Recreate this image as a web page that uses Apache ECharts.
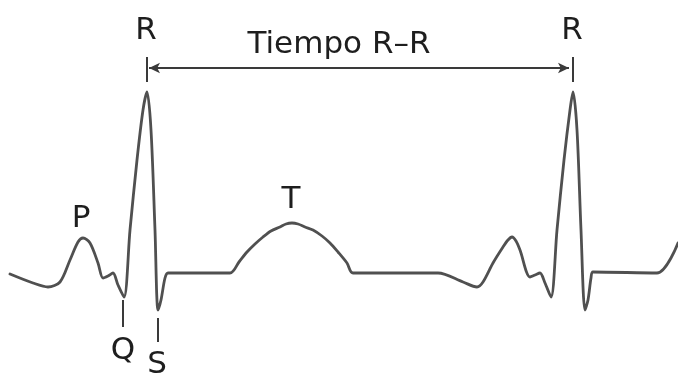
<!DOCTYPE html>
<html><head><meta charset="utf-8">
<script src="https://cdn.jsdelivr.net/npm/echarts@6/dist/echarts.min.js"></script>
<style>html,body{margin:0;padding:0;background:#fff}#c{width:678px;height:377px}</style>
</head><body><div id="c"></div>
<script>
// ECG trace: time (ms) and voltage (mV)
const timeMs = [20, 66, 96, 120, 140, 156, 166, 180, 196, 206, 216, 226, 236, 248,
  260, 274, 286, 294, 302, 310, 316, 322, 330, 336,
  460, 478, 494, 510, 526, 542, 560, 572, 584, 596, 610, 626, 644, 660, 676, 694, 706,
  876, 926, 954, 966, 986, 1006, 1016, 1024, 1032, 1040, 1060, 1070, 1080, 1090, 1102,
  1114, 1128, 1140, 1146, 1154, 1162, 1170, 1176, 1182, 1186, 1314, 1356];
const voltageMv = [-0.01, -0.10, -0.14, -0.09, 0.13, 0.31, 0.35, 0.30, 0.10, -0.05, -0.03, 0.00, -0.12, -0.24,
  0.43, 1.13, 1.63, 1.81, 1.43, 0.43, -0.37, -0.27, -0.05, 0.00,
  0.00, 0.11, 0.21, 0.29, 0.36, 0.42, 0.46, 0.49, 0.50, 0.49, 0.46, 0.43, 0.37, 0.30, 0.21, 0.10, 0.00,
  0.00, -0.09, -0.14, -0.09, 0.10, 0.26, 0.33, 0.36, 0.32, 0.23, -0.04, -0.02, 0.00, -0.10, -0.24,
  0.43, 1.13, 1.63, 1.81, 1.43, 0.43, -0.37, -0.27, -0.05, 0.01, 0.00, 0.30];

// wave labels
const labelTexts = ['P', 'Q', 'R', 'S', 'T', 'R', 'Tiempo R–R'];
const labelTimes = [162, 246, 292, 314, 582, 1144, 678];
const labelVolts = [0.54, -0.78, 2.42, -0.92, 0.73, 2.42, 2.28];

// marker ticks (time, top mV, bottom mV)
const tickTimes = [294, 1146, 246, 316];
const tickTops = [2.16, 2.16, -0.27, -0.45];
const tickBottoms = [1.91, 1.91, -0.54, -0.69];

// R-R interval arrow
const arrowStart = 298, arrowEnd = 1138, arrowLevel = 2.05;

const chart = echarts.init(document.getElementById('c'), null, {renderer: 'canvas'});
const ink = '#505050';
chart.setOption({
  animation: false,
  backgroundColor: '#ffffff',
  grid: {left: 0, right: 0, top: 0, bottom: 0},
  xAxis: {type: 'value', min: 0, max: 1356, show: false},
  yAxis: {type: 'value', min: -1.04, max: 2.73, show: false},
  series: [
    {
      type: 'line',
      data: timeMs.map((t, i) => [t, voltageMv[i]]),
      showSymbol: false,
      smooth: 0.3,
      lineStyle: {color: ink, width: 2.8, join: 'round', cap: 'round'},
      silent: true,
      markLine: {
        silent: true,
        symbol: ['none', 'none'],
        label: {show: false},
        lineStyle: {color: '#3a3a3a', width: 2, type: 'solid'},
        data: tickTimes.map((t, i) => [{coord: [t, tickTops[i]]}, {coord: [t, tickBottoms[i]]}])
      }
    },
    {
      type: 'line',
      data: [],
      silent: true,
      markLine: {
        silent: true,
        symbol: ['arrow', 'arrow'],
        symbolSize: [8, 11],
        label: {show: false},
        lineStyle: {color: '#3a3a3a', width: 2.2, type: 'solid'},
        data: [[{coord: [arrowStart, arrowLevel]}, {coord: [arrowEnd, arrowLevel]}]]
      }
    },
    {
      type: 'scatter',
      symbolSize: 0,
      silent: true,
      data: labelTexts.map((s, i) => ({name: s, value: [labelTimes[i], labelVolts[i]]})),
      label: {
        show: true,
        position: 'inside',
        formatter: p => p.name,
        color: '#1e1e1e',
        opacity: 1,
        fontFamily: 'DejaVu Sans',
        fontSize: 31
      }
    }
  ]
});
</script>
</body></html>
